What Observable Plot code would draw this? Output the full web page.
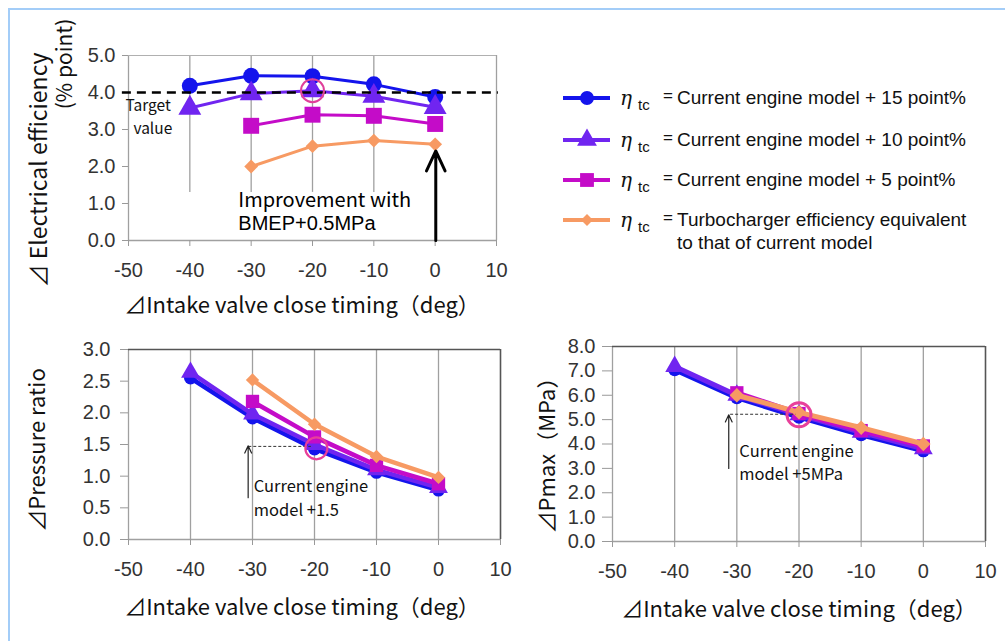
<!DOCTYPE html>
<html><head><meta charset="utf-8">
<script src="https://cdn.jsdelivr.net/npm/d3@7"></script>
<script src="https://cdn.jsdelivr.net/npm/@observablehq/plot@0.6"></script>
<style>
body{margin:0;background:#fff;}
#root{position:relative;width:1005px;height:641px;overflow:hidden;background:#fff;font-family:"Liberation Sans",Arial,sans-serif;}
.border{position:absolute;left:8px;top:8px;width:1100px;height:700px;border-left:2px solid #a3cdf8;border-top:2px solid #a3cdf8;}
.pl{position:absolute;}
.title{position:absolute;font-family:"Noto Sans CJK JP",sans-serif;font-size:21px;color:#111;white-space:nowrap;line-height:1;}
.rot{transform:translate(-50%,-50%) rotate(-90deg);}
.hx{transform:translate(-50%,-50%);}
.leg{position:absolute;left:560px;font-family:"Liberation Sans",Arial,sans-serif;font-size:19px;color:#111;white-space:nowrap;line-height:1;}
.leg svg{position:absolute;left:0;top:0;}
.leg .eta{position:absolute;left:60px;top:-10px;font-family:"DejaVu Serif",serif;font-style:italic;font-size:20px;}
.leg .sub{position:absolute;left:78px;top:-1px;font-size:15px;}
.leg .eq{position:absolute;left:103px;top:-11px;font-size:17px;}
.leg .txt{position:absolute;left:117px;top:-10px;line-height:1;}
</style></head>
<body><div id="root"><div class="border"></div></div>
<script>
// ---------- data ----------
const timing = [-40, -30, -20, -10, 0];
const seriesLabels = [
  "Current engine model + 15 point%",
  "Current engine model + 10 point%",
  "Current engine model + 5 point%",
  "Turbocharger efficiency equivalent|to that of current model"
];
const seriesColors = ["#1414ec", "#7025f0", "#c40cc8", "#f79a63"];
const seriesSymbols = ["circle", "triangle", "square", "diamond2"];

// Electrical efficiency (% point)
const effS15 = [4.18, 4.45, 4.44, 4.22, 3.88];
const effS10 = [3.58, 3.97, 4.05, 3.9, 3.6];
const effS5  = [null, 3.1, 3.4, 3.37, 3.15];
const effS0  = [null, 2.0, 2.55, 2.7, 2.6];
// Pressure ratio
const prS15 = [2.55, 1.92, 1.43, 1.06, 0.78];
const prS10 = [2.64, 1.98, 1.5, 1.1, 0.82];
const prS5  = [null, 2.18, 1.62, 1.17, 0.88];
const prS0  = [null, 2.52, 1.82, 1.31, 0.98];
// Pmax (MPa)
const pmS15 = [7.05, 5.9, 5.1, 4.38, 3.72];
const pmS10 = [7.18, 6.0, 5.2, 4.48, 3.8];
const pmS5  = [null, 6.1, 5.25, 4.55, 3.92];
const pmS0  = [null, 6.0, 5.3, 4.67, 4.0];

const xTicks = [-50, -40, -30, -20, -10, 0, 10];
const effTicks = [0, 1, 2, 3, 4, 5];
const prTicks = [0, 0.5, 1, 1.5, 2, 2.5, 3];
const pmTicks = [0, 1, 2, 3, 4, 5, 6, 7, 8];
const targetValue = 4.0;

// ---------- helpers ----------
const root = document.getElementById("root");
function rows(arr){ return timing.map((t,i)=>({x:t, y:arr[i]})).filter(d=>d.y!=null); }

function seriesMarks(list, lw, rs){
  const marks = [];
  list.forEach((arr,i)=>{
    const d = rows(arr);
    marks.push(Plot.line(d, {x:"x", y:"y", stroke:seriesColors[i], strokeWidth:lw}));
    marks.push(Plot.dot(d, {x:"x", y:"y", fill:seriesColors[i], stroke:"none", symbol:seriesSymbols[i], r:rs[i]}));
  });
  return marks;
}

function place(svg, left, topPx){
  const w = document.createElement("div");
  w.className = "pl"; w.style.left = left+"px"; w.style.top = topPx+"px";
  w.appendChild(svg); root.appendChild(w);
}
function addTitle(text, cx, cy, rotated, size){
  const d = document.createElement("div");
  d.className = "title " + (rotated ? "rot" : "hx");
  d.style.left = cx+"px"; d.style.top = cy+"px";
  if (size) d.style.fontSize = size+"px";
  d.textContent = text; root.appendChild(d);
}
const axisStyle = {fontFamily:"'Liberation Sans', Arial, sans-serif", fontSize:"20px", color:"#333", background:"transparent", overflow:"visible"};
const TF = 20;
const annFont = "Noto Sans CJK JP";

// ---------- top panel ----------
const effPlot = Plot.plot({
  width:520, height:320, marginLeft:128, marginRight:24, marginTop:55, marginBottom:80,
  style:axisStyle,
  x:{domain:[-50,10]}, y:{domain:[0,5]},
  marks:[
    Plot.ruleX(timing.slice(0,4), {y1:1.3, y2:5, stroke:"#a0a0a0", strokeWidth:1.3}),
    Plot.ruleX([10], {y1:0, y2:5, stroke:"#a0a0a0", strokeWidth:1.3}),
    Plot.ruleX([-50], {y1:0, y2:5, stroke:"#a0a0a0", strokeWidth:1.3}),
    Plot.ruleY([5], {x1:-50, x2:10, stroke:"#b0b0b0", strokeWidth:1}),
    Plot.ruleY([0], {x1:-50, x2:10, stroke:"#a0a0a0", strokeWidth:1.3}),
    Plot.axisX({ticks:xTicks, tickSize:6, tickPadding:16, stroke:"#999", fill:"#333", fontSize:TF, label:null, tickFormat:d=>d}),
    Plot.axisY({ticks:effTicks, tickSize:6, tickPadding:7, stroke:"#999", fill:"#333", fontSize:TF, label:null, tickFormat:d=>d.toFixed(1)}),
    ...seriesMarks([effS15, effS10, effS5, effS0], 3, [8, 8.5, 9, 6.2]),
    Plot.ruleY([targetValue], {x1:-51, x2:10.3, stroke:"#000", strokeWidth:2.5, strokeDasharray:"9 6"}),
    Plot.dot([{x:-20, y:4.05}], {x:"x", y:"y", r:11.5, stroke:"#e0409a", strokeWidth:2, fill:"none"}),
    Plot.arrow([{x:0.1, y1:0, y2:2.42}], {x:"x", y1:"y1", y2:"y2", stroke:"#000", strokeWidth:3, headLength:11, headAngle:50}),
    Plot.text(["Target"], {x:-50.5, y:3.64, textAnchor:"start", fontFamily:annFont, fontSize:15.5, fill:"#111"}),
    Plot.text(["value"], {x:-49.2, y:3.0, textAnchor:"start", fontFamily:annFont, fontSize:15.5, fill:"#111"}),
    Plot.text(["Improvement with"], {x:-32.1, y:1.07, textAnchor:"start", fontFamily:annFont, fontSize:20, fill:"#000"}),
    Plot.text(["BMEP+0.5MPa"], {x:-32.1, y:0.45, textAnchor:"start", fontSize:20, fill:"#000"})
  ]
});
place(effPlot, 0, 0);

// ---------- bottom-left ----------
const prPlot = Plot.plot({
  width:520, height:321, marginLeft:128, marginRight:20, marginTop:29, marginBottom:102,
  style:axisStyle,
  x:{domain:[-50,10]}, y:{domain:[0,3]},
  marks:[
    Plot.ruleX(timing, {y1:0, y2:3, stroke:"#a0a0a0", strokeWidth:1.3}),
    Plot.ruleX([-50], {y1:0, y2:3, stroke:"#a0a0a0", strokeWidth:1.3}),
    Plot.ruleX([10], {y1:0, y2:3, stroke:"#555", strokeWidth:1.6}),
    Plot.ruleY([3], {x1:-50, x2:10, stroke:"#555", strokeWidth:1.6}),
    Plot.ruleY([0], {x1:-50, x2:10, stroke:"#a0a0a0", strokeWidth:1.3}),
    Plot.axisX({ticks:xTicks, tickSize:6, tickPadding:16, stroke:"#999", fill:"#333", fontSize:TF, label:null, tickFormat:d=>d}),
    Plot.axisY({ticks:prTicks, tickSize:8, tickPadding:10, stroke:"#999", fill:"#333", fontSize:TF, label:null, tickFormat:d=>d.toFixed(1)}),
    ...seriesMarks([prS15, prS10, prS5, prS0], 4.5, [6.5, 7, 7.5, 6]),
    Plot.ruleY([1.47], {x1:-30.6, x2:-20.5, stroke:"#333", strokeWidth:1, strokeDasharray:"3 2"}),
    Plot.dot([{x:-19.7, y:1.44}], {x:"x", y:"y", r:11, stroke:"#e8409a", strokeWidth:2.2, fill:"none"}),
    Plot.arrow([{x:-30.7, y1:0.66, y2:1.48}], {x:"x", y1:"y1", y2:"y2", stroke:"#222", strokeWidth:1.2, headLength:10, headAngle:50}),
    Plot.text(["Current engine"], {x:-29.8, y:0.83, textAnchor:"start", fontFamily:annFont, fontSize:16.5, fill:"#111"}),
    Plot.text(["model +1.5"], {x:-29.8, y:0.45, textAnchor:"start", fontFamily:annFont, fontSize:16.5, fill:"#111"})
  ]
});
place(prPlot, 0, 320);

// ---------- bottom-right ----------
const pmPlot = Plot.plot({
  width:505, height:321, marginLeft:112, marginRight:20, marginTop:26, marginBottom:100,
  style:axisStyle,
  x:{domain:[-50,10]}, y:{domain:[0,8]},
  marks:[
    Plot.ruleX(timing, {y1:0, y2:8, stroke:"#a0a0a0", strokeWidth:1.3}),
    Plot.ruleX([-50], {y1:0, y2:8, stroke:"#a0a0a0", strokeWidth:1.3}),
    Plot.ruleX([10], {y1:0, y2:8, stroke:"#555", strokeWidth:1.6}),
    Plot.ruleY([8], {x1:-50, x2:10, stroke:"#555", strokeWidth:1.6}),
    Plot.ruleY([0], {x1:-50, x2:10, stroke:"#a0a0a0", strokeWidth:1.3}),
    Plot.axisX({ticks:xTicks, tickSize:6, tickPadding:16, stroke:"#999", fill:"#333", fontSize:TF, label:null, tickFormat:d=>d}),
    Plot.axisY({ticks:pmTicks, tickSize:10, tickPadding:7, stroke:"#999", fill:"#333", fontSize:TF, label:null, tickFormat:d=>d.toFixed(1)}),
    ...seriesMarks([pmS15, pmS10, pmS5, pmS0], 5, [6.5, 7, 7.5, 6.5]),
    Plot.ruleY([5.22], {x1:-31, x2:-20.5, stroke:"#333", strokeWidth:1, strokeDasharray:"3 2"}),
    Plot.dot([{x:-20, y:5.2}], {x:"x", y:"y", r:12, stroke:"#e8409a", strokeWidth:3, fill:"none"}),
    Plot.arrow([{x:-31.3, y1:3.0, y2:5.2}], {x:"x", y1:"y1", y2:"y2", stroke:"#222", strokeWidth:1.2, headLength:10, headAngle:50}),
    Plot.text(["Current engine"], {x:-29.6, y:3.68, textAnchor:"start", fontFamily:annFont, fontSize:16.5, fill:"#111"}),
    Plot.text(["model +5MPa"], {x:-29.6, y:2.72, textAnchor:"start", fontFamily:annFont, fontSize:16.5, fill:"#111"})
  ]
});
place(pmPlot, 500, 320);

// ---------- titles ----------
addTitle("⊿ Electrical efficiency", 37, 170, true, 23);
addTitle("(% point)", 63, 64, true, 21);
addTitle("⊿Intake valve close timing（deg）", 302, 303, false, 22);
addTitle("⊿Pressure ratio", 35, 450, true, 22);
addTitle("⊿Intake valve close timing（deg）", 302, 605, false, 22);
addTitle("⊿Pmax（MPa）", 545, 450, true, 22);
addTitle("⊿Intake valve close timing（deg）", 799, 607, false, 22);

// ---------- legend ----------
const legendY = [98, 140, 180, 220];
const legendSizes = [8, 8.5, 9, 6.2];
seriesLabels.forEach((lab,i)=>{
  const row = document.createElement("div");
  row.className = "leg"; row.style.top = legendY[i]+"px";
  const s = d3.create("svg").attr("width",56).attr("height",24).style("top","-12px");
  s.append("line").attr("x1",3).attr("x2",50).attr("y1",12).attr("y2",12)
    .attr("stroke",seriesColors[i]).attr("stroke-width",4);
  const sym = {circle:d3.symbolCircle, triangle:d3.symbolTriangle, square:d3.symbolSquare, diamond2:d3.symbolDiamond2}[seriesSymbols[i]];
  s.append("path").attr("transform","translate(27,12)")
    .attr("d", d3.symbol(sym, Math.PI*legendSizes[i]*legendSizes[i]*0.75)()).attr("fill",seriesColors[i]);
  row.appendChild(s.node());
  const eta = document.createElement("span"); eta.className="eta"; eta.textContent="η"; row.appendChild(eta);
  const sub = document.createElement("span"); sub.className="sub"; sub.textContent="tc"; row.appendChild(sub);
  const eq = document.createElement("span"); eq.className="eq"; eq.textContent="="; row.appendChild(eq);
  lab.split("|").forEach((p, k)=>{
    const t = document.createElement("span"); t.className="txt";
    t.style.top = (-10 + k*23)+"px";
    t.textContent = p;
    row.appendChild(t);
  });
  root.appendChild(row);
});
</script>
</body></html>
